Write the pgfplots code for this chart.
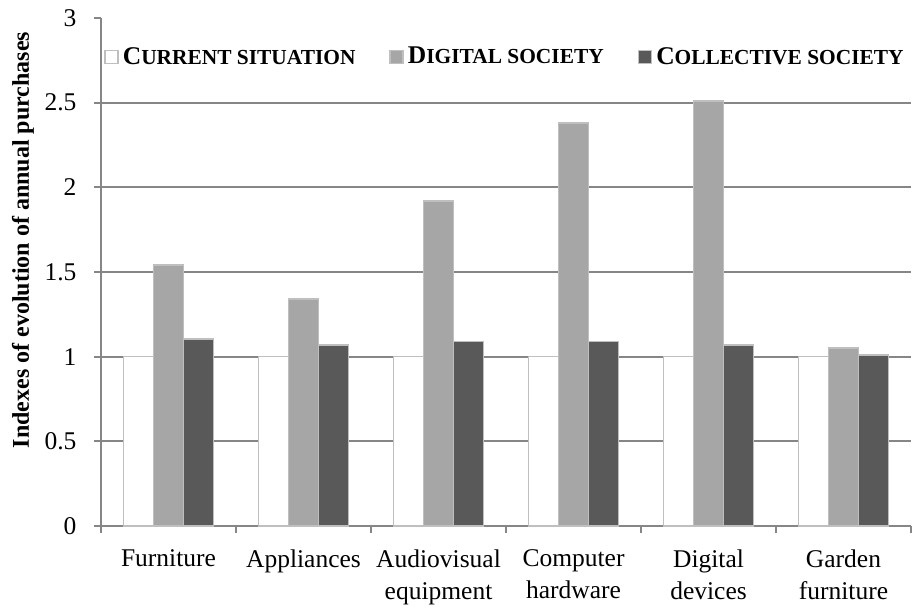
\documentclass[border=0pt]{standalone}
\usepackage{fontspec}
\setmainfont{Liberation Serif}
\usepackage{pgfplots}
\pgfplotsset{compat=1.18}
\definecolor{gridgray}{HTML}{868686}
\definecolor{barborder}{HTML}{BFBFBF}
\definecolor{digital}{HTML}{A6A6A6}
\definecolor{collective}{HTML}{595959}
\newcommand\lsc[2]{{\fontsize{12.75}{13}\selectfont\bfseries #1}{\fontsize{10.7}{11}\selectfont\bfseries #2}}
\pgfplotsset{mylegend/.style={legend image code/.code={\draw[##1, line width=0.75pt] (0pt,-3.25pt) rectangle (6.5pt,3.25pt);}}}
\begin{document}
\begin{tikzpicture}
\begin{axis}[
  scale only axis,
  width=405pt, height=254pt,
  xmin=-0.5, xmax=5.5, ymin=0, ymax=3,
  ybar=0pt, bar width=15pt,
  axis x line*=bottom, axis y line*=left,
  axis line style={gridgray, line width=0.9pt},
  tick align=outside,
  major tick length=3.5pt,
  tick style={gridgray, line width=0.9pt},
  xtick={-0.5,0.5,...,5.5}, xticklabels={},
  extra x ticks={0,1,2,3,4,5},
  extra x tick labels={Furniture, Appliances, {Audiovisual\\equipment}, {Computer\\hardware}, {Digital\\devices}, {Garden\\furniture}},
  extra x tick style={major tick length=0pt},
  xticklabel style={align=center, font=\fontsize{12.75}{16}\selectfont, yshift=-8.5pt},
  ytick={0,0.5,...,2.5},
  extra y ticks={3},
  extra y tick style={grid=none},
  ymajorgrids,
  grid style={gridgray, line width=0.9pt},
  yticklabel style={font=\fontsize{12.75}{14}\selectfont, xshift=-5.25pt},
  /pgf/number format/assume math mode=true,
  ylabel={\bfseries Indexes of evolution of annual purchases},
  every axis y label/.style={at={(axis description cs:-0.0963,0.563)}, anchor=center, rotate=90, font=\fontsize{12}{14}\selectfont},
  legend style={at={(0.5,0.923)}, anchor=center, draw=none, fill=none,
    legend columns=-1, /tikz/every even column/.append style={column sep=15pt}},
]
\addplot[fill=white, draw=barborder, line width=0.75pt, mylegend] coordinates {(0,1) (1,1) (2,1) (3,1) (4,1) (5,1)};
\addplot[fill=digital, draw=barborder, line width=0.75pt, mylegend] coordinates {(0,1.54) (1,1.34) (2,1.92) (3,2.38) (4,2.51) (5,1.05)};
\addplot[fill=collective, draw=barborder, line width=0.75pt, mylegend] coordinates {(0,1.105) (1,1.07) (2,1.09) (3,1.09) (4,1.07) (5,1.01)};
\legend{\lsc{C}{URRENT SITUATION}, \lsc{D}{IGITAL SOCIETY}, \lsc{C}{OLLECTIVE SOCIETY}}
\coordinate (ll) at (rel axis cs:0,0);
\coordinate (ur) at (rel axis cs:1,1);
\end{axis}
\pgfresetboundingbox
\path ([xshift=-50.5pt,yshift=-40.5pt]ll) rectangle ([xshift=0.5pt,yshift=9pt]ur);
\end{tikzpicture}
\end{document}
